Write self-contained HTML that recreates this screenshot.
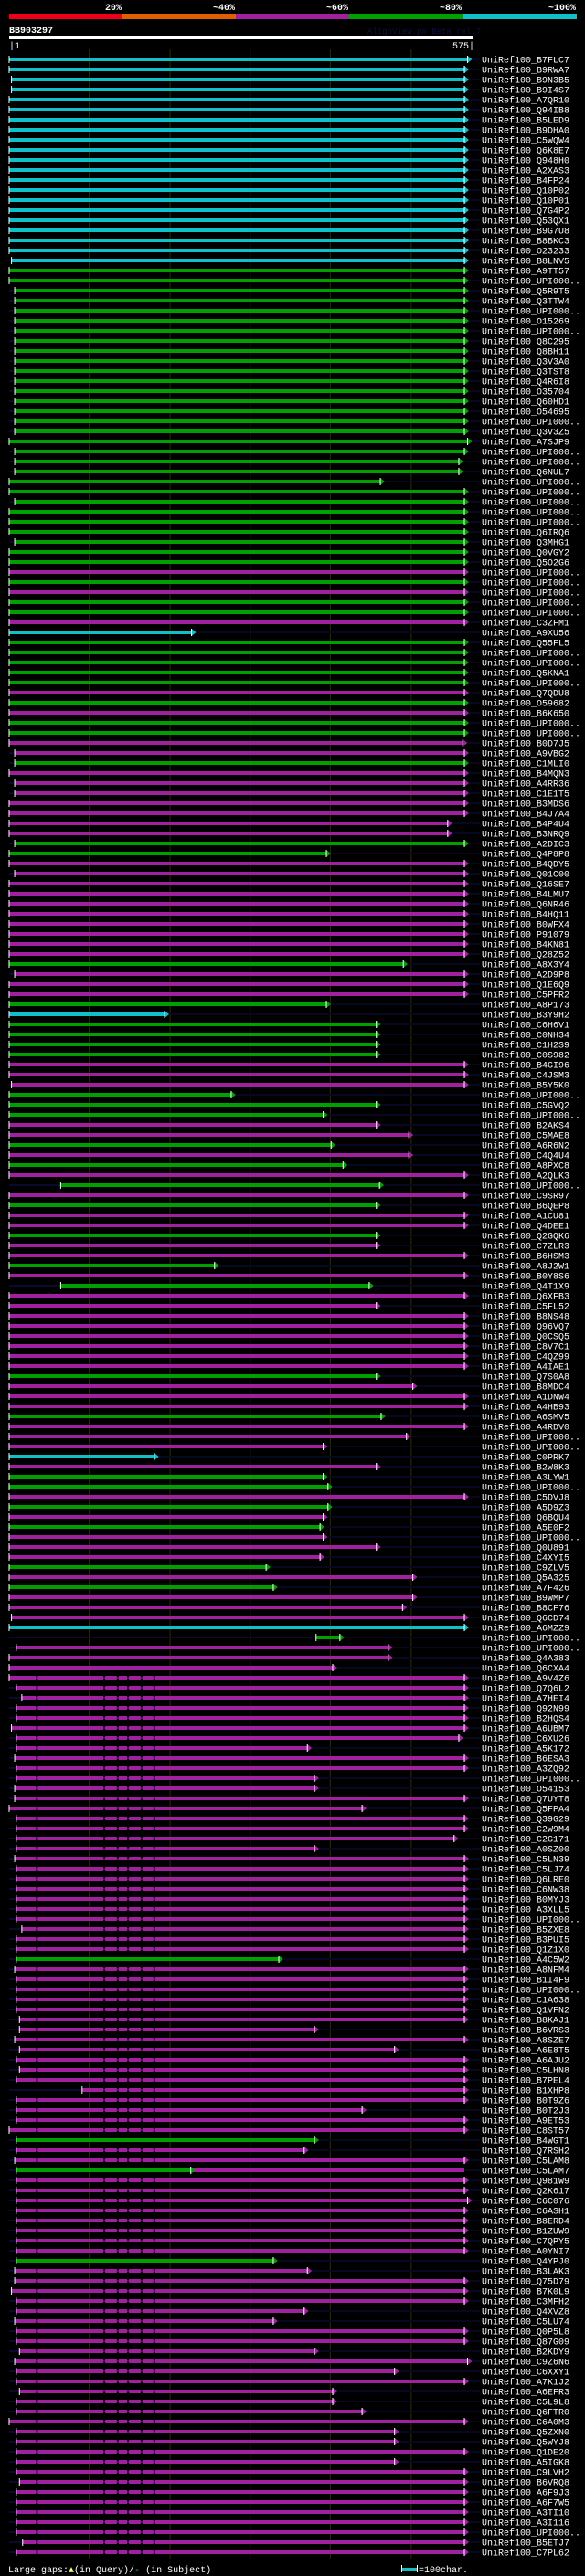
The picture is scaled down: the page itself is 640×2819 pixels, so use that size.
<!DOCTYPE html>
<html><head><meta charset="utf-8"><style>
html,body{margin:0;padding:0;background:#000;}
svg{display:block;}
text{font-family:"Liberation Mono",monospace;}
</style></head><body>
<svg id="chart" width="640" height="2819" viewBox="0 0 640 2819" xmlns="http://www.w3.org/2000/svg">
<rect x="0" y="0" width="640" height="2819" fill="#000"/>
<g>
<rect x="10" y="15" width="124" height="6" fill="#f00018"/>
<rect x="134" y="15" width="124" height="6" fill="#e06000"/>
<rect x="258" y="15" width="124" height="6" fill="#a020a0"/>
<rect x="382" y="15" width="124" height="6" fill="#00a000"/>
<rect x="506" y="15" width="125" height="6" fill="#10c0c8"/>
<text x="133" y="11" fill="#fff" font-size="10" font-weight="bold" text-anchor="end">20%</text>
<text x="257" y="11" fill="#fff" font-size="10" font-weight="bold" text-anchor="end">~40%</text>
<text x="381" y="11" fill="#fff" font-size="10" font-weight="bold" text-anchor="end">~60%</text>
<text x="505" y="11" fill="#fff" font-size="10" font-weight="bold" text-anchor="end">~80%</text>
<text x="630" y="11" fill="#fff" font-size="10" font-weight="bold" text-anchor="end">~100%</text>
</g>
<text x="10" y="36" fill="#fff" font-size="10" font-weight="bold">BB903297</text>
<text x="402" y="37" fill="#101040" font-size="9">AlignView.pm Beta rel.7</text>
<rect x="10" y="39" width="508" height="4" fill="#fff"/>
<text x="10" y="53" fill="#fff" font-size="10">|1</text>
<text x="519" y="53" fill="#fff" font-size="10" text-anchor="end">575|</text>
<g id="grid"></g>
<g id="rows"></g>
<g>
<text x="9" y="2815" fill="#fff" font-size="10">Large gaps:<tspan fill="#ffff80">▲</tspan>(in Query)/<tspan fill="#10c0c8">-</tspan> (in Subject)</text>
<rect x="439" y="2810" width="17" height="3" fill="#10c0c8"/>
<rect x="439" y="2807" width="1" height="8" fill="#fff"/>
<rect x="456" y="2807" width="1" height="8" fill="#fff"/>
<text x="458" y="2815" fill="#fff" font-size="10">=100char.</text>
</g>
</svg>
<script>
const gridTicks = [102, 204, 305, 406, 508];
const labels = ["B7FLC7","B9RWA7","B9N3B5","B9I4S7","A7QR10","Q94IB8","B5LED9","B9DHA0","C5WQW4","Q6K8E7","Q948H0","A2XAS3","B4FP24","Q10P02","Q10P01","Q7G4P2","Q53QX1","B9G7U8","B8BKC3","O23233","B8LNV5","A9TT57","UPI000..","Q5R9T5","Q3TTW4","UPI000..","O15269","UPI000..","Q8C295","Q8BH11","Q3V3A0","Q3TST8","Q4R6I8","O35704","Q60HD1","O54695","UPI000..","Q3V3Z5","A7SJP9","UPI000..","UPI000..","Q6NUL7","UPI000..","UPI000..","UPI000..","UPI000..","UPI000..","Q6IRQ6","Q3MHG1","Q0VGY2","Q5O2G6","UPI000..","UPI000..","UPI000..","UPI000..","UPI000..","C3ZFM1","A9XU56","Q55FL5","UPI000..","UPI000..","Q5KNA1","UPI000..","Q7QDU8","O59682","B6K650","UPI000..","UPI000..","B0D7J5","A9VBG2","C1MLI0","B4MQN3","A4RR36","C1E1T5","B3MDS6","B4J7A4","B4P4U4","B3NRQ9","A2DIC3","Q4P8P8","B4QDY5","Q01C00","Q16SE7","B4LMU7","Q6NR46","B4HQ11","B0WFX4","P91079","B4KN81","Q28Z52","A8X3Y4","A2D9P8","Q1E6Q9","C5PFR2","A8P173","B3Y9H2","C6H6V1","C0NH34","C1H2S9","C0S982","B4GI96","C4JSM3","B5Y5K0","UPI000..","C5GVQ2","UPI000..","B2AKS4","C5MAE8","A6R6N2","C4Q4U4","A8PXC8","A2QLK3","UPI000..","C9SR97","B6QEP8","A1CU81","Q4DEE1","Q2GQK6","C7ZLR3","B6HSM3","A8J2W1","B0Y8S6","Q4T1X9","Q6XFB3","C5FL52","B8NS48","Q96VQ7","Q0CSQ5","C8V7C1","C4QZ99","A4IAE1","Q7S0A8","B8MDC4","A1DNW4","A4HB93","A6SMV5","A4RDV0","UPI000..","UPI000..","C0PRK7","B2W8K3","A3LYW1","UPI000..","C5DVJ8","A5D9Z3","Q6BQU4","A5E0F2","UPI000..","Q0U891","C4XYI5","C9ZLV5","Q5A325","A7F426","B9WMP7","B8CF76","Q6CD74","A6MZZ9","UPI000..","UPI000..","Q4A383","Q6CXA4","A9V4Z6","Q7Q6L2","A7HEI4","Q92N99","B2HQS4","A6UBM7","C6XU26","A5K172","B6ESA3","A3ZQ92","UPI000..","O54153","Q7UYT8","Q5FPA4","Q39G29","C2W9M4","C2G171","A0SZ00","C5LN39","C5LJ74","Q6LRE0","C6NW38","B0MYJ3","A3XLL5","UPI000..","B5ZXE8","B3PUI5","Q1Z1X0","A4C5W2","A8NFM4","B1I4F9","UPI000..","C1A638","Q1VFN2","B8KAJ1","B6VRS3","A8SZE7","A6E8T5","A6AJU2","C5LHN8","B7PEL4","B1XHP8","B0T9Z6","B0T2J3","A9ET53","C8ST57","B4WGT1","Q7RSH2","C5LAM8","C5LAM7","Q981W9","Q2K617","C6C076","C6ASH1","B8ERD4","B1ZUW9","C7QPY5","A0YNI7","Q4YPJ0","B3LAK3","Q75D79","B7K0L9","C3MFH2","Q4XVZ8","C5LU74","Q0P5L8","Q87G09","B2KDY9","C9Z6N6","C6XXY1","A7K1J2","A6EFR3","C5L9L8","Q6FTR0","C6A0M3","Q5ZXN0","Q5WYJ8","Q1DE20","A5IGK8","C9LVH2","B6VRQ8","A6F9J3","A6F7W5","A3TI10","A3I116","UPI000..","B5ETJ7","C7PL62"];
const starts = [1,1,4,4,1,1,1,1,1,1,1,1,1,1,1,1,1,1,1,1,4,1,1,8,8,8,8,8,8,8,8,8,8,8,8,8,8,8,1,8,8,8,1,1,8,1,1,1,8,1,1,1,1,1,1,1,1,1,1,1,1,1,1,1,1,1,1,1,1,8,8,1,8,8,1,1,1,1,8,1,1,8,1,1,1,1,1,1,1,1,1,8,1,1,1,1,1,1,1,1,1,1,4,1,1,1,1,1,1,1,1,1,66,1,1,1,1,1,1,1,1,1,66,1,1,1,1,1,1,1,1,1,1,1,1,1,1,1,1,1,1,1,1,1,1,1,1,1,1,1,1,1,1,1,1,4,1,388,10,1,1,1,10,17,10,10,4,10,10,8,10,10,8,8,1,10,10,10,10,8,10,10,10,10,10,10,17,10,10,10,8,10,10,10,10,14,14,8,14,10,14,10,93,10,10,10,1,10,10,8,10,10,10,10,10,10,10,10,10,10,8,8,4,10,10,8,10,10,14,8,10,10,14,10,10,1,10,10,10,10,10,14,10,10,10,10,10,18,10,10];
const ends = [579,575,575,575,575,575,575,575,575,575,575,575,575,575,575,575,575,575,575,575,575,575,575,575,575,575,575,575,575,575,575,575,575,575,575,575,575,575,579,575,568,568,469,575,575,575,575,575,575,575,575,575,575,575,575,575,575,231,575,575,575,575,575,575,575,575,575,575,573,575,575,575,575,575,575,575,554,554,575,401,575,575,575,575,575,575,575,575,575,575,498,575,575,575,401,197,464,464,464,464,575,575,575,281,464,397,464,505,407,505,422,575,468,575,464,575,575,464,464,575,260,575,455,575,464,575,575,575,575,575,575,464,510,575,575,470,575,502,397,184,464,397,403,575,403,397,393,397,464,393,325,510,334,510,497,575,575,418,479,479,409,575,575,575,575,575,575,568,377,575,575,386,386,575,446,575,575,562,386,575,575,575,575,575,575,575,575,575,575,341,575,575,575,575,575,575,386,575,487,575,575,575,575,575,446,575,575,386,373,575,230,575,575,579,575,575,575,575,575,334,377,575,575,575,373,334,575,575,386,579,487,575,409,409,446,575,487,487,575,487,575,575,575,575,575,575,575,575,575];
const colors = [
  "CCCCCCCCCCCCCCCCCCCCC",
  "GGGGGGGGGGGGGGGGGGGGGGGGGGGGGG",
  "MGMGGMC",
  "GGGGG",
  "MGMGGMMG",
  "MMMMMMM",
  "GG",
  "MMMMMMMMMM",
  "GMMMGC",
  "GGGG",
  "MMMGGGMMGMGMGMGMMGMMGMG",
  "MMMMMMMM",
  "GMMMGMMMCMGGMGMGMMMGMGMMMCG",
  "MMMMMMMMMMMMMMMMMMMMMMMMMMMMMMM",
  "G",
  "MMMMMMMMMMMMMMMMM",
  "G",
  "MM",
  "G",
  "MMMMMMMM",
  "G",
  "MMMMMMMMMMMMMMMMMMMMMMMMMMMMM"
].join("");
const gapPattern = [36, 121, 138, 151, 168, 184];
const gapRowFirst = 161;
const extraSegStart = {210: 230};
const palette = {C: "#10c0c8", G: "#00a000", M: "#a020a0"};
const NS = "http://www.w3.org/2000/svg";
function xScale(p){ return 10 + (p - 1) * 498 / 574; }
function yRow(i){ return 65 + i * 11; }
function mk(tag, attrs, parent){
  const e = document.createElementNS(NS, tag);
  for (const k in attrs) e.setAttribute(k, attrs[k]);
  parent.appendChild(e); return e;
}
const grid = document.getElementById('grid');
gridTicks.forEach(t => {
  const l = mk('rect', {x: xScale(t) - 0.5, y: 54, width: 1, height: 2746, fill: '#2c2c08'}, grid);
  
  
});
const rowsG = document.getElementById('rows');
labels.forEach((lab, i) => {
  const y = yRow(i);
  const g = mk('g', {}, rowsG);
  
  
  const col = palette[colors[i]] || palette.M;
  const x0 = xScale(starts[i]), x1 = xScale(ends[i]);
  if (starts[i] > 1) {
    const ext = mk('rect', {x: 10, y: y - 1, width: x0 - 10, height: 2, fill: '#0a0a30'}, g);
    
    
  }
  const extR = mk('rect', {x: x1 + 5, y: y - 1, width: Math.max(0, 525 - x1 - 5), height: 2, fill: '#070722'}, g);
  
  
  const bar = mk('rect', {x: x0, y: y - 2, width: x1 - x0, height: 4, fill: col}, g);
  
  
  if (extraSegStart[i] !== undefined) {
    const seg = mk('rect', {x: xScale(extraSegStart[i]), y: y - 2, width: xScale(575) - xScale(extraSegStart[i]), height: 4, fill: palette.M}, g);
    
    
  }
  if (i >= gapRowFirst && colors[i] === 'M') {
    gapPattern.forEach(gp => {
      if (gp > starts[i] && gp < ends[i]) {
        const gr = mk('rect', {x: xScale(gp) - 1, y: y - 2, width: 2, height: 1.5, fill: '#000'}, g);
        
        
        const gr2 = mk('rect', {x: xScale(gp) - 1, y: y + 0.5, width: 2, height: 1.5, fill: '#000'}, g);
        
        
      }
    });
  }
  const tick = mk('rect', {x: x0 - 0.5, y: y - 4, width: 1, height: 8, fill: '#fff'}, g);
  
  
  const arr = mk('polygon', {points: `${x1},${y-4} ${x1+5},${y} ${x1},${y+4}`, fill: col}, g);
  
  
  const edge = mk('rect', {x: x1 - 0.5, y: y - 4, width: 1, height: 8, fill: '#fff'}, g);
  
  
  const t = mk('text', {x: 527, y: y + 3.5, fill: '#fff', 'font-size': 10}, g);
  
  
  t.textContent = 'UniRef100_' + lab;
});
</script>
</body></html>
